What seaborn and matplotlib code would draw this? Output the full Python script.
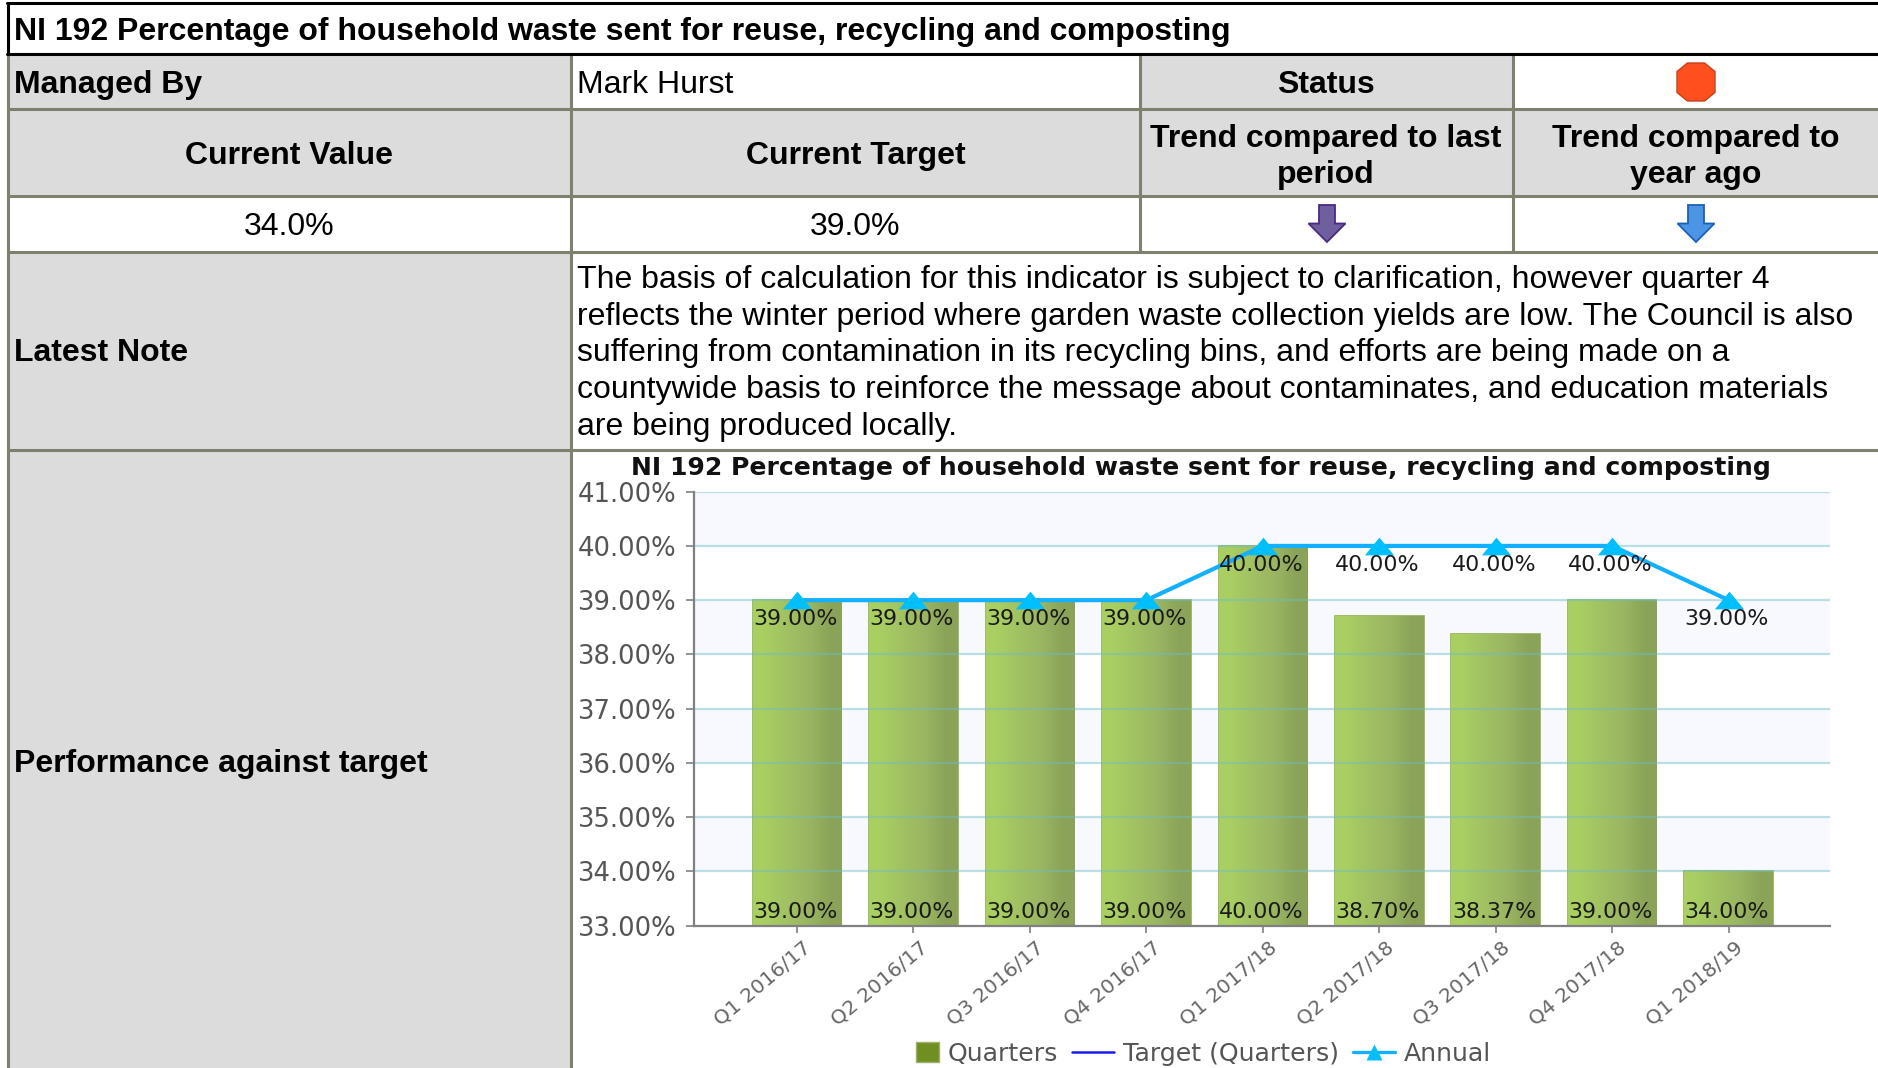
import numpy as np
import pandas as pd
import matplotlib
matplotlib.use("Agg")
import matplotlib.pyplot as plt
from matplotlib.patches import Rectangle, Polygon
from matplotlib.lines import Line2D
from matplotlib.legend_handler import HandlerPatch
from matplotlib.transforms import ScaledTranslation
import seaborn as sns

# ---- data ----
periods = ["Q1 2016/17", "Q2 2016/17", "Q3 2016/17", "Q4 2016/17", "Q1 2017/18",
           "Q2 2017/18", "Q3 2017/18", "Q4 2017/18", "Q1 2018/19"]
quarters = [39.00, 39.00, 39.00, 39.00, 40.00, 38.70, 38.37, 39.00, 34.00]
target = [39.00, 39.00, 39.00, 39.00, 40.00, 40.00, 40.00, 40.00, 39.00]
annual = [39.00, 39.00, 39.00, 39.00, 40.00, 40.00, 40.00, 40.00, 39.00]
y_ticks = [33, 34, 35, 36, 37, 38, 39, 40, 41]

title_text = "NI 192 Percentage of household waste sent for reuse, recycling and composting"
note_lines = [
    "The basis of calculation for this indicator is subject to clarification, however quarter 4",
    "reflects the winter period where garden waste collection yields are low. The Council is also",
    "suffering from contamination in its recycling bins, and efforts are being made on a",
    "countywide basis to reinforce the message about contaminates, and education materials",
    "are being produced locally.",
]

W, H = 1878, 1068
GREY = "#dcdcdc"
RULE = "#80806f"
TABLE_FONT = "Liberation Sans"
CHART_FONT = "DejaVu Sans"

sns.set_theme(style="white")
plt.rcParams["font.family"] = [CHART_FONT]

fig = plt.figure(figsize=(W / 100, H / 100), dpi=100, facecolor="white")

# ---- table layer in pixel coordinates ----
bg = fig.add_axes([0, 0, 1, 1], zorder=0)
bg.set_xlim(0, W)
bg.set_ylim(H, 0)
bg.axis("off")

cells = [
    (8, 54, 563, 55), (8, 109, 563, 87), (1140, 54, 373, 55), (1140, 109, 373, 87),
    (572, 109, 568, 87), (1513, 109, 365, 87), (8, 252, 563, 198), (8, 450, 563, 618),
]
for x, y, w, h in cells:
    bg.add_patch(Rectangle((x, y), w, h, fc=GREY, ec="none"))

for y in (109, 196, 252, 450):
    bg.plot([8, W], [y, y], color=RULE, lw=2.2, solid_capstyle="butt")
bg.plot([7.5, 7.5], [54, H], color=RULE, lw=2.2)
bg.plot([571, 571], [54, H], color=RULE, lw=2.2)
for x in (1140, 1512.5):
    bg.plot([x, x], [54, 252], color=RULE, lw=2.2)
bg.plot([7, W], [3, 3], color="black", lw=2.2)
bg.plot([7, W], [54, 54], color="black", lw=2.2)
bg.plot([7.5, 7.5], [3, 54], color="black", lw=2.2)


def cell(x, y, s, bold=True, ha="center", size=23.0):
    bg.text(x, y + 2.4, s, ha=ha, va="center", family=TABLE_FONT, color="black",
            fontsize=size, fontweight="bold" if bold else "normal")


cell(14, 30, title_text, ha="left")
cell(14, 83, "Managed By", ha="left")
cell(577, 83, "Mark Hurst", bold=False, ha="left")
cell(1326, 83, "Status")
cell(289, 154, "Current Value")
cell(856, 154, "Current Target")
cell(1326, 136.5, "Trend compared to last")
cell(1326, 172.5, "period")
cell(1696, 136.5, "Trend compared to")
cell(1696, 172.5, "year ago")
cell(289, 225, "34.0%", bold=False)
cell(855, 225, "39.0%", bold=False)
cell(14, 351, "Latest Note", ha="left")
cell(14, 762, "Performance against target", ha="left")
for yy, line in zip((278, 315, 351, 388, 425), note_lines):
    cell(577, yy, line, bold=False, ha="left")

# status octagon
cx, cy, rx, ry = 1696, 82, 19, 19
oct_pts = [(cx - rx * .45, cy - ry), (cx + rx * .45, cy - ry), (cx + rx, cy - ry * .55),
           (cx + rx, cy + ry * .55), (cx + rx * .45, cy + ry), (cx - rx * .45, cy + ry),
           (cx - rx, cy + ry * .55), (cx - rx, cy - ry * .55)]
bg.add_patch(Polygon(oct_pts, closed=True, fc="#ff4f1f", ec="#c8401c", lw=1))


def arrow(cx, top, bottom, face, edge):
    hw, sw = 18.5, 8
    mid = top + (bottom - top) * 0.5
    pts = [(cx - sw, top), (cx + sw, top), (cx + sw, mid), (cx + hw, mid),
           (cx, bottom), (cx - hw, mid), (cx - sw, mid)]
    bg.add_patch(Polygon(pts, closed=True, fc=face, ec=edge, lw=1.3))


arrow(1327, 205, 242, "#6f5f9f", "#4b2a82")
arrow(1696, 205, 242, "#4c94e4", "#1c60b8")

# ---- chart layer ----
LEFT, RIGHT, TOP, BOTTOM = 694, 1830, 491.7, 925.5
ax = fig.add_axes([LEFT / W, 1 - BOTTOM / H, (RIGHT - LEFT) / W, (BOTTOM - TOP) / H], zorder=2)
ax.set_facecolor("white")

df = pd.DataFrame({"period": periods, "quarters": quarters, "target": target, "annual": annual})

sns.barplot(data=df, x="period", y="quarters", color="#a0c060", width=0.76, saturation=1,
            edgecolor="#8fb04a", linewidth=1.2, ax=ax, zorder=2)

# horizontal gradient clipped to each bar
ramp = np.array([[0.0, 0.35, 0.65, 1.0]])
cmap = matplotlib.colors.LinearSegmentedColormap.from_list("bar", ["#a9cf62", "#a2c262", "#9ab562", "#8aa358"])
for patch in list(ax.patches):
    x0, w, h = patch.get_x(), patch.get_width(), patch.get_height()
    im = ax.imshow(ramp, extent=(x0, x0 + w, 33, h), aspect="auto", cmap=cmap,
                   interpolation="bilinear", zorder=2.1)
    im.set_clip_path(patch)

sns.lineplot(data=df, x="period", y="target", color="#1a1aee", lw=1.5, sort=False,
             estimator=None, ax=ax, zorder=4, legend=False)
sns.lineplot(data=df, x="period", y="annual", color="#12b0ff", lw=3, sort=False,
             estimator=None, ax=ax, zorder=5, legend=False)
tri = [(-14, -8.5), (14, -8.5), (0, 8.5)]
ax.plot(periods, annual, linestyle="none", marker=tri, ms=21, mfc="#00bfff", mec="none", zorder=6)

ax.set_xlim(-0.884, 8.87)
ax.set_ylim(33, 41)
ax.set_yticks(y_ticks)
ax.set_yticklabels([f"{v:.2f}%" for v in y_ticks])
for lo, hi in zip(y_ticks[:-1], y_ticks[1:]):
    if (41 - hi) % 2 == 0:
        ax.axhspan(lo, hi, fc="#f8f9fe", ec="none", zorder=0)
for v in y_ticks[1:]:
    ax.axhline(v, color="#6bbcc8", alpha=0.45, lw=1.6, zorder=3)

ax.set_xlabel("")
ax.set_ylabel("")
sns.despine(ax=ax, top=True, right=True)
for side in ("left", "bottom"):
    ax.spines[side].set_color("#808080")
    ax.spines[side].set_linewidth(1.6)
    ax.spines[side].set_zorder(7)
ax.tick_params(axis="y", length=6, width=1.2, color="#808080", labelcolor="#555555",
               labelsize=18.6, pad=7, left=True)
ax.tick_params(axis="x", length=5, width=1.2, color="#808080", labelcolor="#666666",
               labelsize=14.6, pad=4, bottom=True)
shift = ScaledTranslation(4 / 72, 0, fig.dpi_scale_trans)
for lab in ax.get_xticklabels():
    lab.set_rotation(40)
    lab.set_ha("right")
    lab.set_va("top")
    lab.set_rotation_mode("anchor")
    lab.set_transform(lab.get_transform() + shift)

for i, v in enumerate(quarters):
    ax.annotate(f"{v:.2f}%", (i, 33), xytext=(-1.3, 13.5 * .72), textcoords="offset points",
                ha="center", va="center", fontsize=15.9, color="#1a1a1a", zorder=8)
for i, v in enumerate(annual):
    ax.annotate(f"{v:.2f}%", (i, v), xytext=(-1.3, -19 * .72), textcoords="offset points",
                ha="center", va="center", fontsize=15.9, color="#1a1a1a", zorder=8)

fig.text(1201 / W, 1 - 468 / H, title_text, ha="center", va="center", fontsize=18.1,
         fontweight="bold", color="#111111", zorder=9)


def narrow_swatch(legend, orig_handle, xdescent, ydescent, width, height, fontsize):
    s = 0.55 * width
    return Rectangle((-xdescent + width - s, -ydescent - 1), s, height + 2)


handles = [
    Rectangle((0, 0), 1, 1, fc="#6f8f20", ec="#a0b070"),
    Line2D([], [], color="#1a1aee", lw=1.8),
    Line2D([], [], color="#12b0ff", lw=2.4, marker="^", ms=11, mfc="#00bfff", mec="none"),
]
leg = fig.legend(handles, ["Quarters", "Target (Quarters)", "Annual"], ncol=3, frameon=False,
                 loc="center", bbox_to_anchor=(1194 / W, 1 - 1054 / H), fontsize=18.2,
                 labelcolor="#555555", handlelength=1.65, handletextpad=0.35, columnspacing=0.55,
                 handler_map={Rectangle: HandlerPatch(patch_func=narrow_swatch)})

fig.savefig("out.png", dpi=100, facecolor="white")
